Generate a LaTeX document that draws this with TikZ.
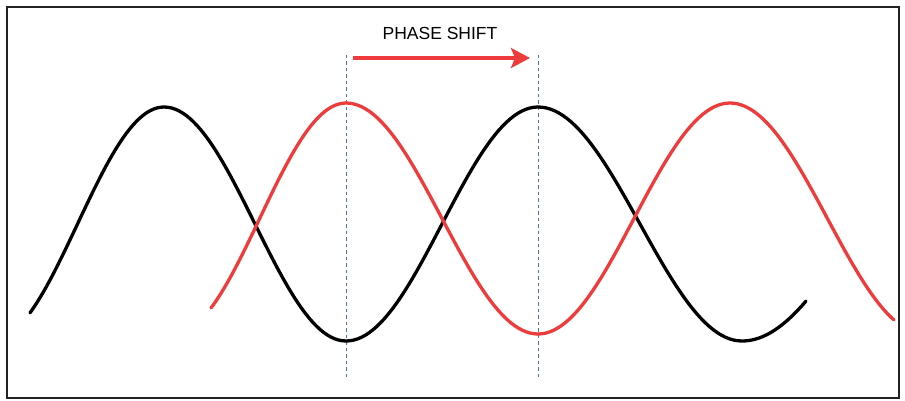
\documentclass[tikz,border=0pt]{standalone}
\usepackage{fontspec}
\setmainfont{Liberation Sans}
\usetikzlibrary{arrows.meta}
\definecolor{wavered}{HTML}{EE3B3B}
\definecolor{guideblue}{HTML}{4A6FC8}
\definecolor{framegray}{HTML}{222222}
\tikzset{
  frame/.style={draw=framegray, line width=2pt},
  blackwave/.style={draw=black, line width=3.3pt, line cap=round, line join=round},
  redwave/.style={draw=wavered, line width=3.3pt, line cap=round, line join=round},
  guide/.style={draw=guideblue, line width=0.9pt, dash pattern=on 3.5pt off 3pt},
  shiftarrow/.style={draw=wavered, line width=3.3pt, -{Stealth[length=19pt,width=20pt,inset=4pt]}},
  label/.style={font=\fontsize{17.5}{20}\selectfont, text=black, inner sep=0pt}
}
\begin{document}
\begin{tikzpicture}[x=1pt,y=-1pt]
\useasboundingbox (0,0) rectangle (905,401);
\draw[frame] (7,7) rectangle (899,398);
% guides
\coordinate (g1t) at (346,55); \coordinate (g1b) at (346,380);
\coordinate (g2t) at (538,55); \coordinate (g2b) at (538,380);
\draw[guide] (g1t) -- (g1b);
\draw[guide] (g2t) -- (g2b);
% black wave
\draw[blackwave]
  plot[domain=30:164, samples=40] (\x, {224 + 117*cos((\x+9)/173*180)})
  -- plot[domain=164:346, samples=50] (\x, {224 - 117*cos((\x-164)/182*180)})
  -- plot[domain=346:538, samples=50] (\x, {224 + 117*cos((\x-346)/192*180)})
  -- plot[domain=538:742, samples=50] (\x, {224 - 117*cos((\x-538)/204*180)})
  -- plot[domain=742:806, samples=25] (\x, {224 + 117*cos((\x-742)/236*180)});
% red wave
\draw[redwave]
  plot[domain=211:346, samples=40] (\x, {218.5 + 115.5*cos((\x-173.4)/172.6*180)})
  -- plot[domain=346:538, samples=50] (\x, {218.5 - 115.5*cos((\x-346)/192*180)})
  -- plot[domain=538:730, samples=50] (\x, {218.5 + 115.5*cos((\x-538)/192*180)})
  -- plot[domain=730:894, samples=45] (\x, {218.5 - 115.5*cos((\x-730)/194.8*180)});
% phase shift arrow
\coordinate (as) at (353,58);
\coordinate (ae) at (530,58);
\draw[shiftarrow] (as) -- (ae);
\node[label] (ps) at (440,33) {PHASE SHIFT};
\end{tikzpicture}
\end{document}
